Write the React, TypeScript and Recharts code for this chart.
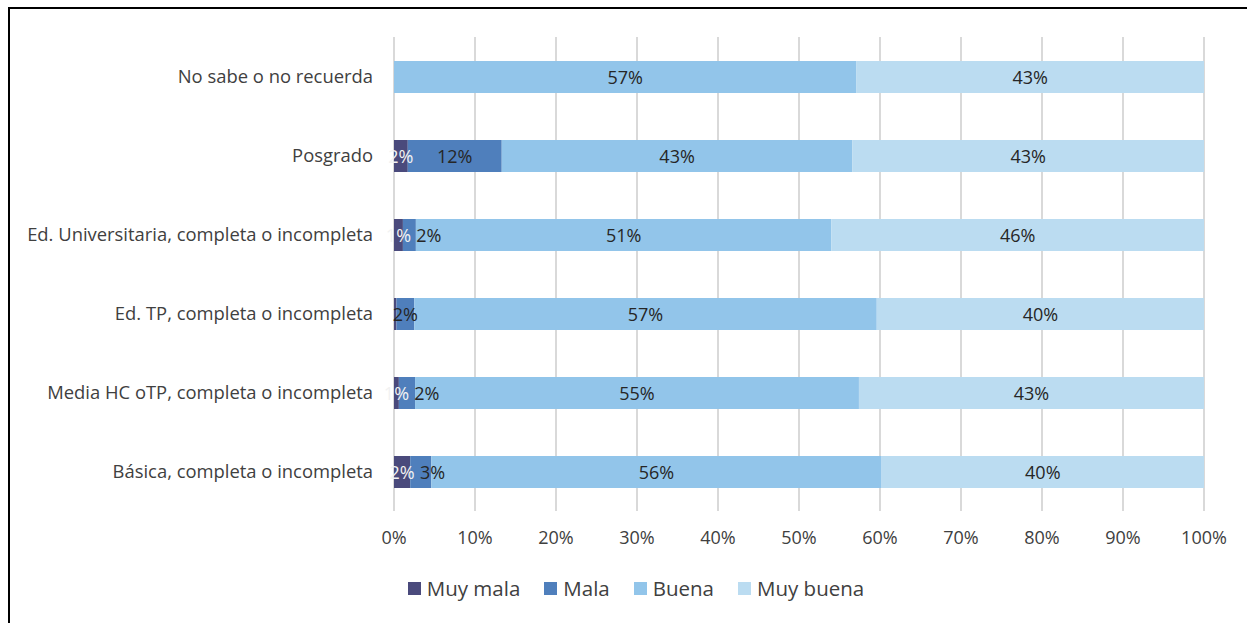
import React from 'react';
import { BarChart, Bar, XAxis, YAxis, CartesianGrid, Legend, LabelList } from 'recharts';

const categories = [
  'No sabe o no recuerda',
  'Posgrado',
  'Ed. Universitaria, completa o incompleta',
  'Ed. TP, completa o incompleta',
  'Media HC oTP, completa o incompleta',
  'Básica, completa o incompleta',
];

const muyMala = [0, 1.7, 1.1, 0.3, 0.6, 2.0];
const mala = [0, 11.6, 1.6, 2.2, 2.0, 2.6];
const buena = [57.1, 43.3, 51.3, 57.1, 54.8, 55.6];
const muyBuena = [42.9, 43.4, 46.0, 40.4, 42.6, 39.8];

const xTicks = [0, 10, 20, 30, 40, 50, 60, 70, 80, 90, 100];

const series = [
  { key: 'muyMala', name: 'Muy mala', color: '#4a4a7c', text: '#f2f2f2', values: muyMala },
  { key: 'mala', name: 'Mala', color: '#4f7fbc', text: '#262626', values: mala },
  { key: 'buena', name: 'Buena', color: '#92c5ea', text: '#262626', values: buena },
  { key: 'muyBuena', name: 'Muy buena', color: '#bbdcf1', text: '#262626', values: muyBuena },
];

const data = categories.map((name, i) => ({
  name,
  row: i,
  muyMala: muyMala[i],
  mala: mala[i],
  buena: buena[i],
  muyBuena: muyBuena[i],
}));

const FONT = "'Open Sans', sans-serif";
const pct = (v: number) => `${Math.round(v)}%`;
const textWidth = (s: string) => (s.length - 1) * 0.572 * 18 + 0.838 * 18;

// label value is the row number, so the renderer can look at the neighbour segment
const makeLabel = (key: string, values: number[], color: string) => (props: any) => {
  const { x, y, width, height, value } = props;
  const row = Number(value);
  const v = values[row];
  if (!v || Math.round(v) < 1) return null;
  let cx = Number(x) + Number(width) / 2;
  if (key === 'mala') {
    const prev = muyMala[row];
    if (Math.round(prev) >= 1) {
      const pxPer = Number(width) / v;
      const prevCenter = Number(x) - (prev * pxPer) / 2;
      const minCx = prevCenter + textWidth(pct(prev)) / 2 + 5 + textWidth(pct(v)) / 2;
      cx = Math.max(cx, minCx);
    }
  }
  return (
    <text
      x={cx}
      y={Number(y) + Number(height) / 2}
      textAnchor="middle"
      dominantBaseline="central"
      fill={color}
      fontSize={18}
      fontFamily={FONT}
    >
      {pct(v)}
    </text>
  );
};

const LegendContent = () => (
  <div
    style={{
      display: 'flex',
      justifyContent: 'center',
      alignItems: 'center',
      height: 26,
      paddingLeft: 68,
      boxSizing: 'border-box',
      fontFamily: FONT,
      fontSize: 20.5,
      color: '#404040',
      marginTop: -2,
    }}
  >
    {series.map((s, i) => (
      <div key={s.key} style={{ display: 'flex', alignItems: 'center', marginLeft: i === 0 ? 0 : 24 }}>
        <span style={{ width: 13, height: 13, background: s.color, marginRight: 6, display: 'inline-block' }} />
        <span style={{ lineHeight: '26px' }}>{s.name}</span>
      </div>
    ))}
  </div>
);

export default function App() {
  return (
    <div style={{ position: 'absolute', left: 0, top: 0, width: 1247, height: 623, background: '#fff' }}>
      <div
        style={{
          position: 'absolute',
          left: 8,
          top: 7,
          width: 1300,
          height: 700,
          borderLeft: '2px solid #000',
          borderTop: '2px solid #000',
        }}
      />
      <div style={{ position: 'absolute', left: 0, top: 0 }}>
        <BarChart
          width={1247}
          height={623}
          data={data}
          layout="vertical"
          barSize={32}
          margin={{ top: 37, right: 43, bottom: 20, left: 0 }}
        >
          <CartesianGrid horizontal={false} vertical stroke="#d9d9d9" strokeWidth={2} />
          <XAxis
            type="number"
            domain={[0, 100]}
            ticks={xTicks}
            tickFormatter={(v) => `${v}%`}
            axisLine={false}
            tickLine={false}
            tickSize={6}
            tickMargin={14}
            height={66}
            interval={0}
            tick={{ fill: '#404040', fontSize: 18, fontFamily: FONT }}
          />
          <YAxis
            type="category"
            dataKey="name"
            width={394}
            axisLine={false}
            tickLine={false}
            tickSize={6}
            tickMargin={15}
            interval={0}
            tick={{ fill: '#404040', fontSize: 18.4, fontFamily: FONT }}
          />
          <Legend verticalAlign="bottom" height={26} content={<LegendContent />} />
          {series.map((s) => (
            <Bar key={s.key} dataKey={s.key} name={s.name} stackId="a" fill={s.color} isAnimationActive={false}>
              <LabelList dataKey="row" content={makeLabel(s.key, s.values, s.text)} />
            </Bar>
          ))}
        </BarChart>
      </div>
    </div>
  );
}
